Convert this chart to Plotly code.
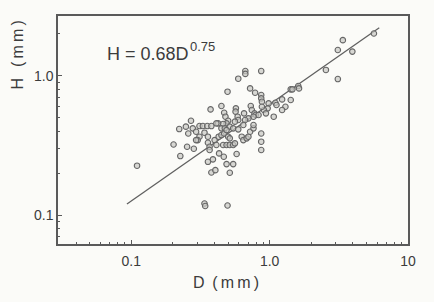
import plotly.graph_objects as go

# Scatter data: D (mm), H (mm)
D = [3.38, 3.11, 3.96, 5.67, 2.55, 3.11, 0.667, 0.667, 0.593, 0.869,
     0.496, 0.722, 0.785, 0.869, 0.869, 0.879, 1.42, 1.61, 1.63, 1.46,
     1.42, 1.23, 1.10, 1.12, 1.30, 1.23, 1.07, 0.983, 0.967, 0.909,
     0.879, 0.940, 0.730, 0.743, 0.777, 0.794, 0.831, 0.764, 0.702, 0.664,
     0.653, 0.645, 0.570, 0.567, 0.587, 0.593, 0.561, 0.448, 0.469, 0.479,
     0.501, 0.488, 0.461, 0.424, 0.448, 0.474, 0.515, 0.545, 0.593, 0.374,
     0.311, 0.329, 0.354, 0.379, 0.412, 0.222, 0.248, 0.270, 0.278, 0.258,
     0.294, 0.311, 0.302, 0.338, 0.358, 0.202, 0.226, 0.253, 0.283, 0.294,
     0.358, 0.368, 0.368, 0.400, 0.412, 0.428, 0.448, 0.469, 0.488, 0.501,
     0.515, 0.461, 0.488, 0.515, 0.545, 0.561, 0.628, 0.645, 0.682, 0.702,
     0.722, 0.764, 0.764, 0.869, 0.869, 0.869, 0.358, 0.389, 0.431, 0.466,
     0.488, 0.545, 0.577, 0.379, 0.405, 0.515, 0.110, 0.338, 0.342, 0.496]
H = [1.80, 1.53, 1.49, 2.01, 1.10, 0.946, 1.08, 1.03, 0.952, 1.08,
     0.768, 0.811, 0.755, 0.727, 0.688, 0.651, 0.798, 0.843, 0.811, 0.798,
     0.669, 0.676, 0.640, 0.616, 0.599, 0.567, 0.508, 0.633, 0.583, 0.567,
     0.599, 0.537, 0.606, 0.567, 0.537, 0.522, 0.522, 0.508, 0.494, 0.481,
     0.537, 0.443, 0.583, 0.552, 0.508, 0.481, 0.468, 0.606, 0.542, 0.508,
     0.475, 0.455, 0.450, 0.455, 0.419, 0.419, 0.431, 0.419, 0.412, 0.573,
     0.435, 0.435, 0.435, 0.435, 0.455, 0.414, 0.431, 0.475, 0.419, 0.385,
     0.396, 0.365, 0.345, 0.390, 0.365, 0.321, 0.265, 0.309, 0.299, 0.345,
     0.330, 0.309, 0.293, 0.345, 0.318, 0.365, 0.375, 0.385, 0.407, 0.365,
     0.355, 0.318, 0.318, 0.318, 0.318, 0.327, 0.365, 0.345, 0.355, 0.365,
     0.396, 0.419, 0.443, 0.385, 0.336, 0.293, 0.241, 0.251, 0.277, 0.262,
     0.232, 0.232, 0.274, 0.202, 0.210, 0.201, 0.226, 0.121, 0.116, 0.117]

# Fitted line as drawn
LINE_D = [0.093, 6.2]
LINE_H = [0.120, 2.21]

X_TICKS = [0.1, 1, 10]
X_TICKTEXT = ["0.1", "1.0", "10"]
Y_TICKS = [0.1, 1]
Y_TICKTEXT = ["0.1", "1.0"]
X_MINOR = [0.04, 0.05, 0.06, 0.07, 0.08, 0.09, 0.2, 0.3, 0.4, 0.5, 0.6, 0.7,
           0.8, 0.9, 2, 3, 4, 5, 6, 7, 8, 9]
Y_MINOR = [0.07, 0.08, 0.09, 0.2, 0.3, 0.4, 0.5, 0.6, 0.7, 0.8, 0.9, 2]

AX = "#5a5a5a"
TXT = "#3c3c3c"
FONT = "Liberation Sans, Arial, sans-serif"

fig = go.Figure()
fig.add_trace(go.Scatter(x=LINE_D, y=LINE_H, mode="lines",
                         line=dict(color="#606060", width=1.3),
                         hoverinfo="skip", showlegend=False))
fig.add_trace(go.Scatter(x=D, y=H, mode="markers",
                         marker=dict(symbol="circle", size=5.5,
                                     color="rgba(200,200,195,0.7)",
                                     line=dict(color="#666666", width=1.1)),
                         showlegend=False))

fig.update_xaxes(type="log", range=[-1.53, 1.0],
                 showgrid=False, zeroline=False,
                 showline=True, linecolor=AX, linewidth=1.5, mirror=True,
                 ticks="inside", ticklen=4, tickwidth=1.2, tickcolor=AX,
                 tickvals=X_TICKS, ticktext=X_TICKTEXT,
                 ticklabelstandoff=3,
                 tickfont=dict(family=FONT, size=14, color=TXT),
                 minor=dict(ticks="inside", ticklen=2.5, tickwidth=1,
                            tickcolor=AX, tickvals=X_MINOR))
fig.update_yaxes(type="log", range=[-1.208, 0.4286],
                 showgrid=False, zeroline=False,
                 showline=True, linecolor=AX, linewidth=1.5, mirror=True,
                 ticks="inside", ticklen=4, tickwidth=1.2, tickcolor=AX,
                 tickvals=Y_TICKS, ticktext=Y_TICKTEXT,
                 tickfont=dict(family=FONT, size=14, color=TXT),
                 minor=dict(ticks="inside", ticklen=2.5, tickwidth=1,
                            tickcolor=AX, tickvals=Y_MINOR))

fig.add_annotation(text="H = 0.68D", xref="paper", yref="paper",
                   x=0.135, y=0.835, xanchor="left", yanchor="middle",
                   showarrow=False, font=dict(family=FONT, size=18, color=TXT))
fig.add_annotation(text="0.75", xref="paper", yref="paper",
                   x=0.372, y=0.865, xanchor="left", yanchor="middle",
                   showarrow=False, font=dict(family=FONT, size=13, color=TXT))
fig.add_annotation(text="D\u2009 (\u2009m\u2009m\u2009)", xref="paper", yref="paper",
                   x=0.48, y=-0.17, xanchor="center", yanchor="middle",
                   showarrow=False, font=dict(family=FONT, size=16, color=TXT))
fig.add_annotation(text="H\u2009\u2009 (\u2009m\u2009m\u2009)", xref="paper", yref="paper",
                   x=-0.115, y=0.83, xanchor="center", yanchor="middle",
                   textangle=-90,
                   showarrow=False, font=dict(family=FONT, size=16, color=TXT))

fig.update_layout(width=434, height=302,
                  margin=dict(l=58, r=26, t=16, b=58),
                  paper_bgcolor="#fbfbf8", plot_bgcolor="#fbfbf8")

fig.write_html("out.html")
